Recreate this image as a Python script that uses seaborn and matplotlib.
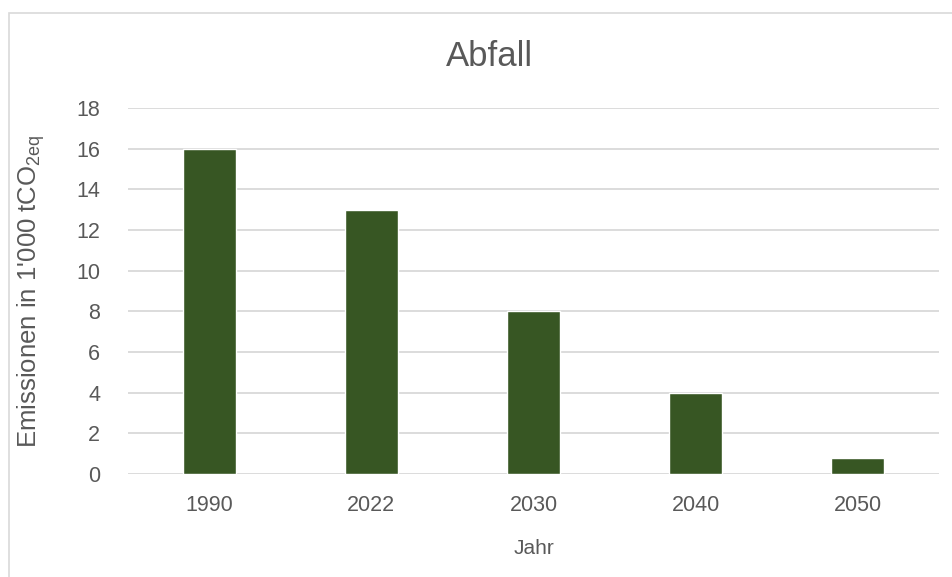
import matplotlib
matplotlib.use("Agg")
import matplotlib.pyplot as plt
import seaborn as sns
import pandas as pd
from matplotlib.patches import Rectangle

years = ["1990", "2022", "2030", "2040", "2050"]
emissions = [16, 13, 8, 4, 0.8]
yticks = [0, 2, 4, 6, 8, 10, 12, 14, 16, 18]

sns.set_theme(style="white")
plt.rcParams["font.family"] = ["Liberation Sans", "DejaVu Sans"]
plt.rcParams["mathtext.fontset"] = "custom"
plt.rcParams["mathtext.rm"] = "Liberation Sans"

df = pd.DataFrame({"Jahr": years, "Emissionen": emissions})

fig = plt.figure(figsize=(9.52, 5.77), dpi=100)
ax = fig.add_axes([128 / 952, 0.1785, 811 / 952, 0.6343])

sns.barplot(data=df, x="Jahr", y="Emissionen", color="#375623", width=0.327,
            saturation=1, ax=ax, zorder=3)

ax.set_ylim(0, 18)
ax.set_yticks(yticks)
ax.grid(axis="y", color="#d9d9d9", linewidth=1.3, zorder=0)
ax.set_axisbelow(True)
for s in ax.spines.values():
    s.set_visible(False)
ax.tick_params(axis="both", length=0, labelsize=15.5, labelcolor="#595959")
ax.tick_params(axis="x", pad=15)
ax.tick_params(axis="y", pad=20)

ax.set_xlabel("Jahr", fontsize=15, color="#595959", labelpad=17)
ax.set_ylabel(r"Emissionen in 1'000 tCO$_\mathregular{2eq}$", fontsize=18.5,
              color="#595959")
ax.yaxis.set_label_coords(-0.1, 0.5)

fig.text(0.514, 1 - 57 / 577, "Abfall", fontsize=25, color="#595959",
         ha="center", va="center")

fig.patches.append(Rectangle((9 / 952, -0.05), 1.2, 1.05 - 13 / 577,
                             transform=fig.transFigure, fill=False,
                             edgecolor="#d9d9d9", linewidth=1.2))

fig.savefig("out.png", dpi=100)
